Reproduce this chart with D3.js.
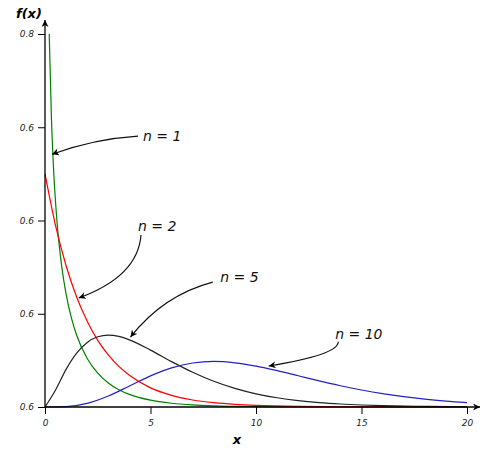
<!DOCTYPE html>
<html>
<head>
<meta charset="utf-8">
<script src="https://cdn.jsdelivr.net/npm/d3@7"></script>
<style>
  body { margin: 0; background: white; }
  text { font-family: "DejaVu Sans", sans-serif; }
</style>
</head>
<body>
<div id="chart"></div>
<script>
// values (chi-square densities)
const xsN1 = [0.2, 0.3, 0.4, 0.5, 0.6, 0.8, 1, 1.25, 1.5, 2, 2.5, 3, 3.5, 4, 5, 6, 7, 8, 10, 12, 15, 20];
const n1 = [0.80, 0.627, 0.516, 0.439, 0.381, 0.299, 0.242, 0.191, 0.154, 0.104, 0.0725, 0.0514, 0.0371, 0.027, 0.0146, 0.0081, 0.0046, 0.0026, 0.0009, 0.0003, 0, 0];

const xsN2 = [0, 0.5, 1, 1.5, 2, 2.5, 3, 3.5, 4, 5, 6, 7, 8, 9, 10, 12, 14, 16, 18, 20];
const n2 = [0.5, 0.389, 0.303, 0.236, 0.184, 0.143, 0.112, 0.087, 0.068, 0.041, 0.025, 0.015, 0.0092, 0.0056, 0.0034, 0.0012, 0.0005, 0.0002, 0.0001, 0];

const xsN5 = [0, 0.5, 1, 1.5, 2, 2.5, 3, 3.5, 4, 5, 6, 7, 8, 9, 10, 11, 12, 13, 14, 15, 16, 18, 20];
const n5 = [0, 0.0366, 0.0807, 0.1153, 0.1384, 0.1506, 0.1542, 0.1513, 0.144, 0.122, 0.0973, 0.0744, 0.0551, 0.0399, 0.0283, 0.0198, 0.0137, 0.0094, 0.0064, 0.0043, 0.0029, 0.0013, 0.0005];

const xsN10 = [0, 1, 2, 3, 4, 5, 6, 7, 8, 9, 10, 11, 12, 13, 14, 15, 16, 17, 18, 19, 20];
const n10 = [0, 0.0008, 0.0077, 0.0235, 0.0451, 0.0668, 0.084, 0.0944, 0.0977, 0.0948, 0.0877, 0.0779, 0.067, 0.0559, 0.0456, 0.0365, 0.0286, 0.0221, 0.0168, 0.0127, 0.0095];

const xTicks = [0, 5, 10, 15, 20];
const yTicks = [0, 0.2, 0.4, 0.6, 0.8];
const yTickLabels = ["0.6", "0.6", "0.6", "0.6", "0.8"];

const labels = ["n = 1", "n = 2", "n = 5", "n = 10"];
// label anchor, arrow start, arrow control, arrow end (data units)
const labelPos = [[4.64, 0.570], [4.41, 0.377], [8.3, 0.268], [13.75, 0.146]];
const arrowFrom = [[4.41, 0.581], [4.55, 0.369], [7.95, 0.268], [13.9, 0.140]];
const arrowCtrl = [[2.3, 0.575], [4.4, 0.28], [5.6, 0.24], [13.9, 0.112]];
const arrowTo = [[0.33, 0.542], [1.6, 0.234], [4.05, 0.150], [10.6, 0.088]];

const series = [
    { xs: xsN1, ys: n1, colour: "#008000" },
    { xs: xsN2, ys: n2, colour: "#ff0000" },
    { xs: xsN5, ys: n5, colour: "#222222" },
    { xs: xsN10, ys: n10, colour: "#2222c0" }
];

const width = 482, height = 450;

const svg = d3.select("#chart")
    .append("svg")
        .attr("width", width)
        .attr("height", height);

const defs = svg.append("defs");
defs.append("marker")
    .attr("id", "arrow")
    .attr("viewBox", "0 0 10 10")
    .attr("refX", 10)
    .attr("refY", 5)
    .attr("markerWidth", 10)
    .attr("markerHeight", 7)
    .attr("markerUnits", "userSpaceOnUse")
    .attr("orient", "auto")
  .append("path")
    .attr("d", "M0,0 L10,5 L0,10 L3,5 Z")
    .attr("fill", "black");

const x = d3.scaleLinear()
    .domain([0, 20])
    .range([45, 467]);

const y = d3.scaleLinear()
    .domain([0, 0.8])
    .range([407, 34]);

const line = d3.line()
    .x(d => x(d[0]))
    .y(d => y(d[1]))
    .curve(d3.curveMonotoneX);

series.forEach(s => {
    svg.append("path")
        .datum(s.xs.map((v, i) => [v, s.ys[i]]))
        .attr("fill", "none")
        .attr("stroke", s.colour)
        .attr("stroke-width", 1.2)
        .attr("d", line);
});

// axes
const xAxisGroup = svg.append("g")
    .attr("transform", `translate(0,${y(0)})`)
    .call(d3.axisBottom(x).tickValues(xTicks).tickSize(7).tickSizeOuter(0).tickPadding(6));
xAxisGroup.select(".domain").remove();
xAxisGroup.selectAll("text")
    .style("font-size", "9px")
    .style("font-style", "italic")
    .style("fill", "#222");

const yAxisGroup = svg.append("g")
    .attr("transform", `translate(${x(0)},0)`)
    .call(d3.axisLeft(y).tickValues(yTicks).tickFormat((d, i) => yTickLabels[i]).tickSize(7).tickSizeOuter(0).tickPadding(4));
yAxisGroup.select(".domain").remove();
yAxisGroup.selectAll("text")
    .style("font-size", "9px")
    .style("font-style", "italic")
    .style("fill", "#222");

svg.append("line")
    .attr("x1", x(0)).attr("y1", y(0))
    .attr("x2", 480).attr("y2", y(0))
    .attr("stroke", "black")
    .attr("stroke-width", 1.3)
    .attr("marker-end", "url(#arrow)");

svg.append("line")
    .attr("x1", x(0)).attr("y1", y(0))
    .attr("x2", x(0)).attr("y2", 20)
    .attr("stroke", "black")
    .attr("stroke-width", 1.3)
    .attr("marker-end", "url(#arrow)");

svg.append("text")
    .attr("x", 16)
    .attr("y", 18)
    .style("font-size", "13px")
    .style("font-weight", "bold")
    .style("font-style", "italic")
    .text("f(x)");

svg.append("text")
    .attr("x", 237)
    .attr("y", 444)
    .attr("text-anchor", "middle")
    .style("font-size", "13px")
    .style("font-weight", "bold")
    .style("font-style", "italic")
    .text("x");

// annotations
labels.forEach((lab, i) => {
    svg.append("text")
        .attr("x", x(labelPos[i][0]))
        .attr("y", y(labelPos[i][1]))
        .style("font-size", "14px")
        .style("font-style", "italic")
        .style("fill", "#111")
        .text(lab);

    const p = d3.path();
    p.moveTo(x(arrowFrom[i][0]), y(arrowFrom[i][1]));
    p.quadraticCurveTo(x(arrowCtrl[i][0]), y(arrowCtrl[i][1]), x(arrowTo[i][0]), y(arrowTo[i][1]));
    svg.append("path")
        .attr("d", p.toString())
        .attr("fill", "none")
        .attr("stroke", "#111")
        .attr("stroke-width", 1.2)
        .attr("marker-end", "url(#arrow)");
});
</script>
</body>
</html>
